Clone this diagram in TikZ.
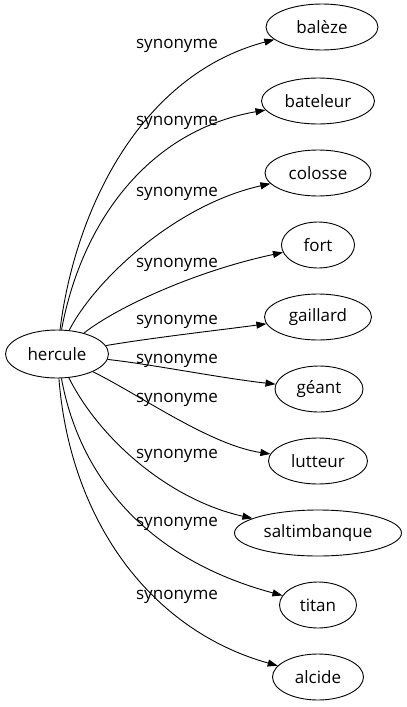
\documentclass[tikz,border=0pt]{standalone}
\usepackage{fontspec}
\setmainfont{Open Sans}
\usepackage{tikz}
\usetikzlibrary{arrows.meta,shapes.geometric}

\begin{document}
\begin{tikzpicture}[x=1pt,y=-1pt,font=\fontsize{17}{19}\selectfont,term/.style={draw,ellipse,line width=0.9pt,inner sep=0pt,minimum height=46pt,minimum width=#1},syn/.style={-{Triangle[length=10pt,width=7pt]},line width=0.9pt},lbl/.style={inner sep=0pt}]
\useasboundingbox (0,0) rectangle (407,707);
\node[term=103pt,minimum height=48pt] (hercule) at (57,354) {hercule};
\node[term=112pt] (baleze) at (322,27) {balèze};
\node[term=113pt] (bateleur) at (318,101) {bateleur};
\node[term=106pt] (colosse) at (318,173) {colosse};
\node[term=73pt] (fort) at (318,245) {fort};
\node[term=107pt] (gaillard) at (318,317) {gaillard};
\node[term=88pt] (geant) at (319,389) {géant};
\node[term=99pt] (lutteur) at (318,461) {lutteur};
\node[term=167pt] (saltimbanque) at (318,533) {saltimbanque};
\node[term=77pt] (titan) at (318,605) {titan};
\node[term=91pt] (alcide) at (318,677) {alcide};
\node[lbl] (s1) at (177,46) {synonyme};
\node[lbl] (s2) at (177,123) {synonyme};
\node[lbl] (s3) at (177,194) {synonyme};
\node[lbl] (s4) at (177,265) {synonyme};
\node[lbl] (s5) at (177,322) {synonyme};
\node[lbl] (s6) at (177,361) {synonyme};
\node[lbl] (s7) at (177,400) {synonyme};
\node[lbl] (s8) at (177,456) {synonyme};
\node[lbl] (s9) at (177,524) {synonyme};
\node[lbl] (s10) at (177,597) {synonyme};
\draw[syn] (hercule) .. controls (75,210) and (140,75) .. (baleze);
\draw[syn] (hercule) .. controls (82,220) and (150,130) .. (bateleur);
\draw[syn] (hercule) .. controls (95,280) and (175,205) .. (colosse);
\draw[syn] (hercule) .. controls (120,305) and (200,270) .. (fort);
\draw[syn] (hercule) .. controls (150,338) and (220,330) .. (gaillard);
\draw[syn] (hercule) .. controls (150,364) and (220,378) .. (geant);
\draw[syn] (hercule) .. controls (140,395) and (210,445) .. (lutteur);
\draw[syn] (hercule) .. controls (100,440) and (170,500) .. (saltimbanque);
\draw[syn] (hercule) .. controls (80,480) and (150,560) .. (titan);
\draw[syn] (hercule) .. controls (70,520) and (150,630) .. (alcide);
\end{tikzpicture}
\end{document}
